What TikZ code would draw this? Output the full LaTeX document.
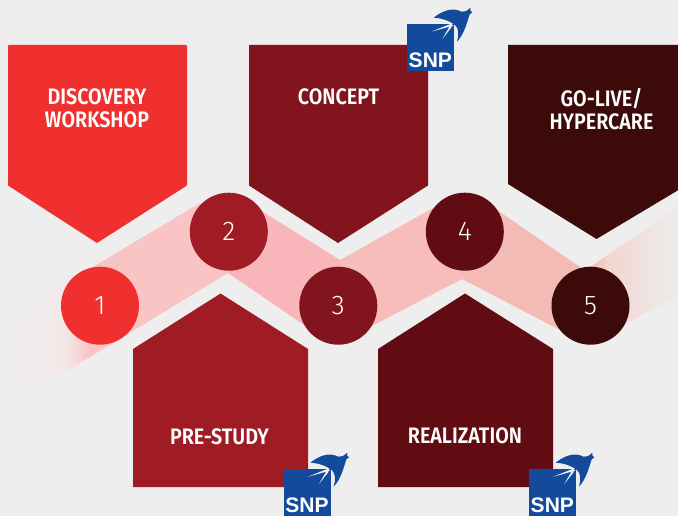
\documentclass[tikz,border=0pt]{standalone}
\usepackage{fontspec}
\setmainfont{Fira Sans}
\newfontfamily\lbl[FakeStretch=0.88]{Fira Sans SemiBold}
\newfontfamily\numf{Fira Sans Light}
\newfontfamily\snpf{Liberation Sans}[BoldFont={Liberation Sans Bold}]
\definecolor{bgc}{HTML}{EEEEEE}
\definecolor{cA}{HTML}{F0302E}
\definecolor{cB}{HTML}{A01C24}
\definecolor{cC}{HTML}{82141E}
\definecolor{cD}{HTML}{600C12}
\definecolor{cE}{HTML}{3C0A08}
\definecolor{sA}{HTML}{F9C4C4}
\definecolor{sB}{HTML}{F9B6BA}
\definecolor{sC}{HTML}{F6BDBA}
\definecolor{sD}{HTML}{F4BAB6}
\definecolor{fadeA}{HTML}{F3E8E8}
\definecolor{fadeB}{HTML}{F3D5CC}
\definecolor{fadeC}{HTML}{F1DDD8}
\definecolor{fadeD}{HTML}{EEE8E6}
\definecolor{fadeE}{HTML}{EEEAE8}
\definecolor{snpblue}{HTML}{134A9C}
\tikzset{
  lab/.style={text=white,font=\lbl\fontsize{22.4}{23.5}\selectfont,align=center,inner sep=0pt},
  num/.style={circle,minimum size=78pt,inner sep=0pt,text=white,font=\numf\fontsize{27}{30}\selectfont},
  snplogo/.pic={
    \begin{scope}[x=0.3333pt,y=-0.3333pt]
      \fill[snpblue] (42,87) rectangle (183,228);
      \fill[snpblue] (122,68) .. controls (150,46) and (180,36) .. (205,50)
        .. controls (215,52) and (222,48) .. (232,38) -- (232,46) -- (238,52) -- (230,58)
        .. controls (222,82) and (214,117) .. (192,140)
        .. controls (198,120) and (198,100) .. (186,90)
        .. controls (170,78) and (150,70) .. (122,68) -- cycle;
      \fill[white!92!snpblue] (115,110) -- (175,86) -- (181,92) -- cycle;
      \fill[white!92!snpblue] (148,132) -- (171,92) -- (177,95) -- cycle;
      \node[text=white,inner sep=0pt,font=\snpf\bfseries\fontsize{21}{21}\selectfont] at (112,197) {SNP};
    \end{scope}
  }
}
\begin{document}
\begin{tikzpicture}[x=1pt,y=-1pt]
\useasboundingbox (0,0) rectangle (678,516);
\clip (0,0) rectangle (678,516);
\fill[bgc] (0,0) rectangle (678,516);
% ribbon
\shade[left color=bgc,right color=fadeA,shading angle=90] (5,325) -- (65.5,282) -- (65.5,371.5) -- (5,408) -- cycle;
\shade[left color=fadeA,right color=sA,shading angle=90] (65,282.3) -- (90,268.7) -- (90,356.8) -- (65,371.8) -- cycle;
\fill[sA] (89.5,269) -- (200,203) -- (228,232) -- (228,273) -- (113,343) -- (89.5,357) -- cycle;
\fill[sB] (228,232) -- (260,210) -- (340,260) -- (340,306) -- (307,327) -- (228,273) -- cycle;
\fill[sC] (340,260) -- (433,208) -- (464,232) -- (462,279) -- (370,327) -- (340,320) -- cycle;
\fill[sD] (462,232) -- (497,210) -- (580,267) -- (591,306) -- (560,330) -- (462,279) -- cycle;
\shade[left color=sD,right color=fadeB,shading angle=90] (590.5,267) -- (607.5,255) -- (607.5,334) -- (590.5,344) -- cycle;
\shade[left color=fadeB,right color=fadeC,shading angle=90] (607,255.5) -- (630.5,239.5) -- (630.5,321) -- (607,334.5) -- cycle;
\shade[left color=fadeC,right color=fadeD,shading angle=90] (630,240) -- (660.5,219) -- (660.5,304.7) -- (630,321.4) -- cycle;
\shade[left color=fadeD,right color=fadeE,shading angle=90] (660,219.4) -- (678,207) -- (678,295) -- (660,305) -- cycle;
% shapes
\fill[cA] (8,47) [rounded corners=1pt] -- (8,45) -- (187,45) -- (187,185.5) [sharp corners] -- (97,243) -- (8,185.5) -- cycle;
\fill[cC] (249,45) -- (428,45) -- (428,185.5) -- (338,243) -- (249,185.5) -- cycle;
\fill[cE] (508,45) -- (686,45) -- (686,185.5) -- (596.5,239) -- (508,184) -- cycle;
\fill[cB] (220.5,293.5) -- (308,349) -- (308,487) -- (133,487) -- (133,349) -- cycle;
\fill[cD] (465,293.5) -- (553,349) -- (553,487) -- (378,487) -- (378,349) -- cycle;
% circles
\node[num,fill=cA] (n1) at (100,305.7) {1};
\node[num,fill=cB] (n2) at (228.8,231.7) {2};
\node[num,fill=cC] (n3) at (338.3,305.7) {3};
\node[num,fill=cD] (n4) at (464.8,231.7) {4};
\node[num,fill=cE] (n5) at (590.5,305.7) {5};
% labels
\node[lab] (l1) at (97,108.3) {DISCOVERY\\WORKSHOP};
\node[lab] (l2) at (338.5,96.8) {CONCEPT};
\node[lab] (l3) at (601.5,109) {GO-LIVE/\\HYPERCARE};
\node[lab] (l4) at (219.5,436.5) {PRE-STUDY};
\node[lab] (l5) at (465,435.5) {REALIZATION};
% logos
\pic at (393,-5) {snplogo};
\pic at (269.7,440) {snplogo};
\pic at (515,440) {snplogo};
\end{tikzpicture}
\end{document}
